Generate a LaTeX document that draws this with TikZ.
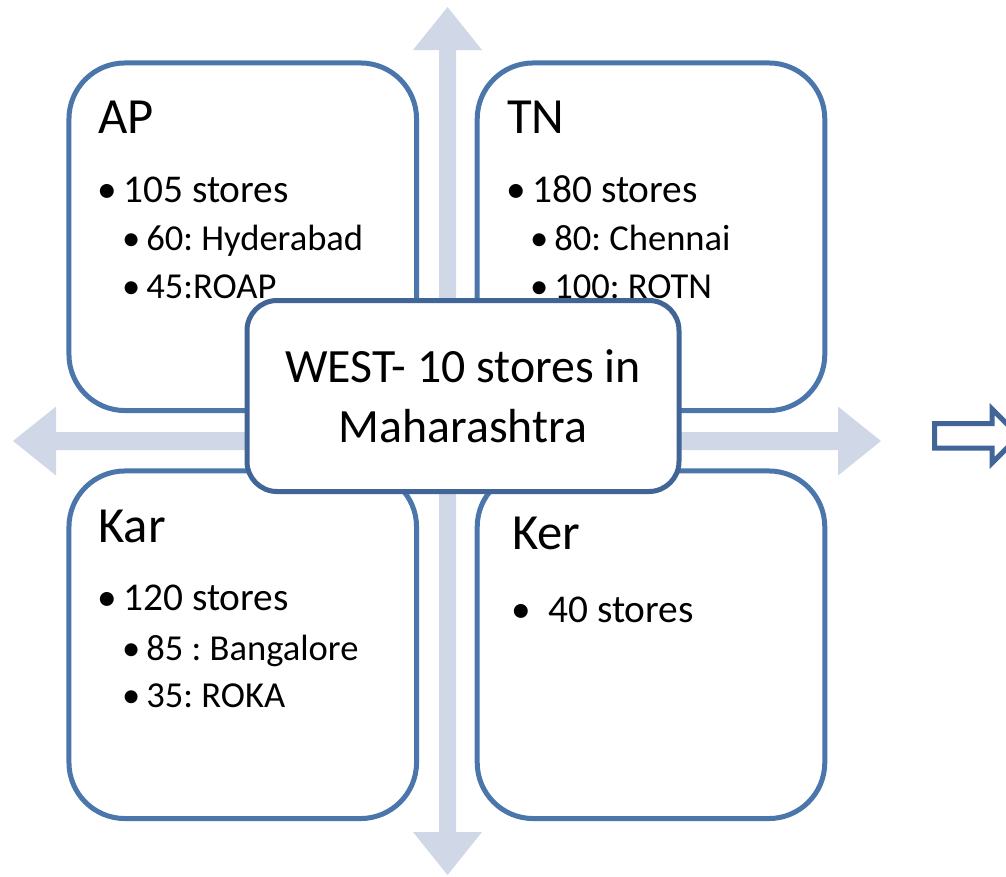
\documentclass[tikz,border=0pt]{standalone}
\usepackage{fontspec}
\setmainfont{Carlito}
\usepackage{xcolor}
\frenchspacing

\definecolor{boxblue}{RGB}{74,118,172}
\definecolor{midblue}{RGB}{65,101,150}
\definecolor{crossfill}{RGB}{208,216,232}

\tikzset{
  regionbox/.style={draw=boxblue, fill=white, line width=0.125cm, rounded corners=1.4cm,
    minimum width=8.6875cm, minimum height=8.6875cm, inner sep=0pt},
  westbox/.style={draw=midblue, fill=white, line width=0.125cm, rounded corners=0.75cm},
  westtext/.style={inner sep=0pt, align=center, font=\fontsize{34pt}{42.7pt}\selectfont},
  regiontitle/.style={anchor=base west, inner sep=0pt, font=\fontsize{36pt}{40pt}\selectfont},
  lvlone/.style={anchor=base west, inner sep=0pt, font=\fontsize{28pt}{34pt}\selectfont,
    execute at begin node={\llap{•\hspace{#1}}}},
  lvlone/.default=4.3pt,
  lvltwo/.style={anchor=base west, inner sep=0pt, font=\fontsize{26pt}{31pt}\selectfont,
    execute at begin node={\llap{•\hspace{4.3pt}}}},
  outlinearrow/.style={draw=midblue, fill=white, line width=0.125cm, line join=miter}
}

\begin{document}
\begin{tikzpicture}[x=0.025cm, y=-0.025cm]
\useasboundingbox (0,0) rectangle (1006,876);
\clip (0,0) rectangle (1006,876);

% Cross arrows behind the boxes
\fill[crossfill] (13,441) -- (56,406.5) -- (56,432) -- (838,432) -- (838,406.5) -- (881,441)
  -- (838,475.5) -- (838,450) -- (56,450) -- (56,475.5) -- cycle;
\fill[crossfill] (447.5,7) -- (482,50) -- (456,50) -- (456,832) -- (482,832) -- (447.5,875)
  -- (413,832) -- (439,832) -- (439,50) -- (413,50) -- cycle;

% Region boxes
\node[regionbox] (ap) at (242.75,236.75) {};
\node[regionbox] (tn) at (651,236.75) {};
\node[regionbox] (kar) at (242.75,644.75) {};
\node[regionbox] (ker) at (651,644.75) {};

% AP
\node[regiontitle] (apt) at (98,133) {AP};
\node[lvlone] (apa) at (123,202) {105 stores};
\node[lvltwo] (apb) at (146,250) {60: Hyderabad};
\node[lvltwo] (apc) at (146,298) {45:ROAP};

% TN
\node[regiontitle] (tnt) at (507,133) {TN};
\node[lvlone] (tna) at (532,202) {180 stores};
\node[lvltwo] (tnb) at (554,250) {80: Chennai};
\node[lvltwo] (tnc) at (554,298) {100: ROTN};

% Kar
\node[regiontitle] (kart) at (98,542) {Kar};
\node[lvlone] (kara) at (123,610) {120 stores};
\node[lvltwo] (karb) at (146,660) {85 : Bangalore};
\node[lvltwo] (karc) at (146,707) {35: ROKA};

% Ker
\node[regiontitle] (kert) at (512,549) {Ker};
\node[lvlone=12pt] (kera) at (548,622) {40 stores};

% Centre box
\draw[westbox] (247,300.5) rectangle (679,491.5);
\node[westtext] (west) at (463,396) {WEST- 10 stores in\\Maharashtra};

% Outline arrow at the right edge
\draw[outlinearrow] (934.5,423.5) -- (992,423.5) -- (992,409) -- (1019,436) -- (992,463)
  -- (992,448) -- (934.5,448) -- cycle;

\end{tikzpicture}
\end{document}
